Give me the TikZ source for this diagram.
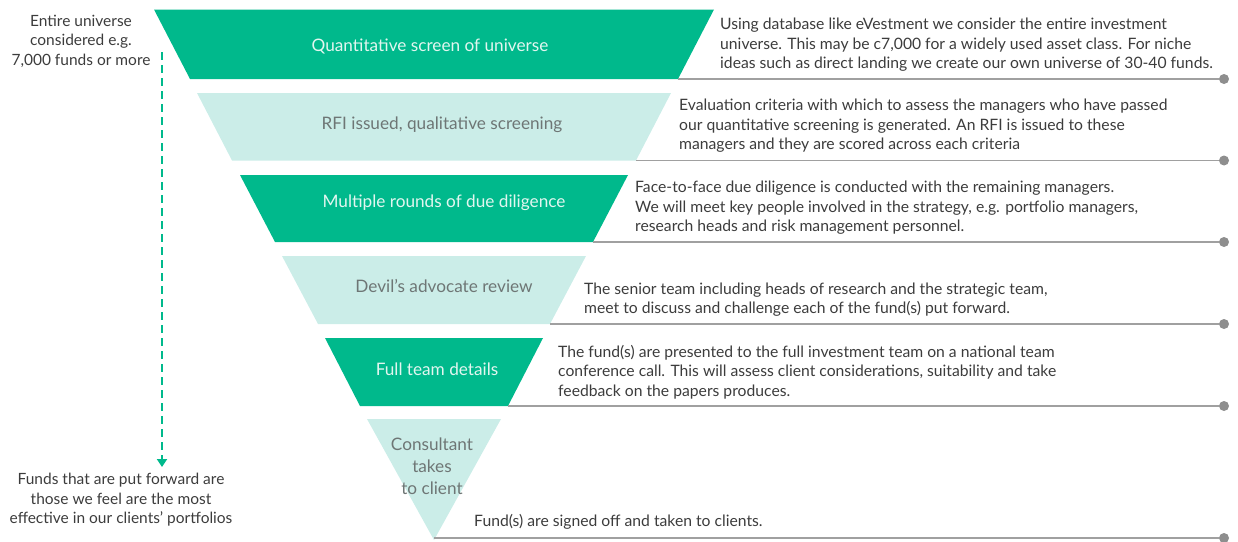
\documentclass[tikz,border=0pt]{standalone}
\usepackage{fontspec}
\setmainfont{Lato}
\usetikzlibrary{arrows.meta}

\definecolor{funnelgreen}{HTML}{00B98C}
\definecolor{funnelmint}{HTML}{CBEDE8}
\definecolor{labelmint}{HTML}{E2F6F0}
\definecolor{labelgrey}{HTML}{6E7675}
\definecolor{bodytext}{HTML}{3C3C3C}
\definecolor{rulegrey}{HTML}{A0A0A0}
\definecolor{dotgrey}{HTML}{8E8E8E}

\tikzset{
  dark/.style={fill=funnelgreen},
  light/.style={fill=funnelmint},
  darklabel/.style={text=labelmint, align=center, inner sep=0pt, font=\fontsize{17.2}{22}\selectfont},
  lightlabel/.style={text=labelgrey, align=center, inner sep=0pt, font=\fontsize{17.2}{22}\selectfont},
  desc/.style={anchor=south west, inner sep=0pt, align=left, text=bodytext, font=\fontsize{15.7}{19.5}\selectfont},
  side/.style={align=center, inner sep=0pt, text=bodytext, font=\fontsize{15.5}{19.5}\selectfont},
  rule/.style={draw=rulegrey, line width=1.2pt},
  enddot/.style={circle, fill=dotgrey, minimum size=10pt, inner sep=0pt}
}

\begin{document}
\begin{tikzpicture}[x=1pt,y=-1pt]
\useasboundingbox (0,0) rectangle (1238,541);

% funnel layers
\fill[dark]  (154,9.5) -- (714,9.5) -- (678,79) -- (190,79) -- cycle;
\fill[light] (197,93) -- (671,93) -- (636,160.5) -- (232,160.5) -- cycle;
\fill[dark]  (240,175) -- (628,175) -- (593,242) -- (275,242) -- cycle;
\fill[light] (282,256) -- (586,256) -- (550,324) -- (318,324) -- cycle;
\fill[dark]  (325,338) -- (543,338) -- (508,406) -- (360,406) -- cycle;
\fill[light] (367,419) -- (501,419) -- (434,540) -- cycle;

\node[darklabel]  (quant) at (430,46)  {Quantitative screen of universe};
\node[lightlabel] (rfi)   at (442,125) {RFI issued, qualitative screening};
\node[darklabel]  (dd)    at (444,203) {Multiple rounds of due diligence};
\node[lightlabel] (devil) at (444,286) {Devil’s advocate review};
\node[darklabel]  (team)  at (437,369) {Full team details};
\node[lightlabel] (cons)  at (432,466) {Consultant\\takes\\to client};

% bottom right corners of the layers
\coordinate (b1) at (678,79);
\coordinate (b2) at (636,160.5);
\coordinate (b3) at (593,242);
\coordinate (b4) at (550,324);
\coordinate (b5) at (508,406);
\coordinate (b6) at (434,538);

\node[enddot] (dot1) at (1224,79) {};
\node[enddot] (dot2) at (1224,160.5) {};
\node[enddot] (dot3) at (1224,242) {};
\node[enddot] (dot4) at (1224,324) {};
\node[enddot] (dot5) at (1224,406) {};
\node[enddot] (dot6) at (1224,538) {};

\draw[rule] (b1) -- (dot1);
\draw[rule] (b2) -- (dot2);
\draw[rule] (b3) -- (dot3);
\draw[rule] (b4) -- (dot4);
\draw[rule] (b5) -- (dot5);
\draw[rule] (b6) -- (dot6);

\node[desc] (desc1) at (720,72) {Using database like eVestment we consider the entire investment\\universe. This may be c7,000 for a widely used asset class. For niche\\ideas such as direct landing we create our own universe of 30-40 funds.};
\node[desc] (desc2) at (679,153) {Evaluation criteria with which to assess the managers who have passed\\our quantitative screening is generated. An RFI is issued to these\\managers and they are scored across each criteria};
\node[desc] (desc3) at (635,235) {Face-to-face due diligence is conducted with the remaining managers.\\We will meet key people involved in the strategy, e.g. portfolio managers,\\research heads and risk management personnel.};
\node[desc] (desc4) at (584,317) {The senior team including heads of research and the strategic team,\\meet to discuss and challenge each of the fund(s) put forward.};
\node[desc] (desc5) at (558,399) {The fund(s) are presented to the full investment team on a national team\\conference call. This will assess client considerations, suitability and take\\feedback on the papers produces.};
\node[desc] (desc6) at (474,530) {Fund(s) are signed off and taken to clients.};

% left side
\node[side] (start) at (81,41) {Entire universe\\considered e.g.\\7,000 funds or more};
\node[side] (finish) at (121,500) {Funds that are put forward are\\those we feel are the most\\effective in our clients’ portfolios};
\coordinate (top) at (162,52);
\coordinate (bottom) at (162,467);
\draw[funnelgreen, line width=2pt, dash pattern=on 8pt off 5pt, -{Triangle[width=10pt,length=8pt]}] (top) -- (bottom);
\end{tikzpicture}
\end{document}
